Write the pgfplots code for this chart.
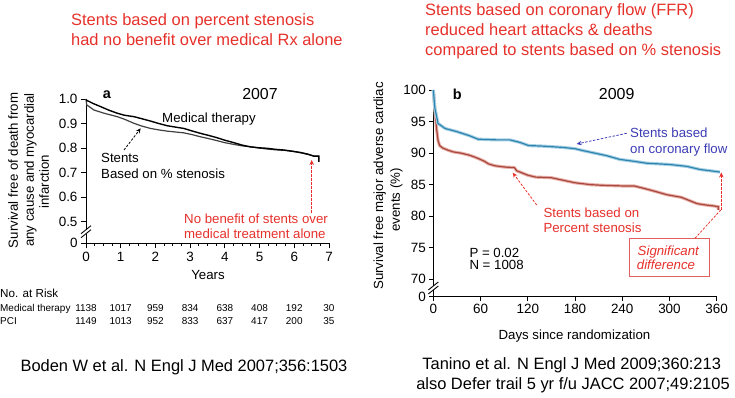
\documentclass[border=0pt]{standalone}
\usepackage{pgfplots}
\pgfplotsset{compat=1.18}
\usepackage{fontspec}
\setmainfont{Liberation Sans}
\usetikzlibrary{arrows.meta}
\definecolor{tred}{HTML}{E6302A}
\definecolor{tblue}{HTML}{3C3CB4}
\definecolor{cblue}{HTML}{2E86B0}
\definecolor{hblue}{HTML}{A8D0E4}
\definecolor{cred}{HTML}{A8483E}
\definecolor{hred}{HTML}{E8B0A8}
\definecolor{boxred}{HTML}{E06060}
\newcommand{\fs}[1]{\fontsize{#1}{#1}\selectfont}
\newcommand{\brk}[2]{%
  \fill[white] (#1-1.6,#2-2) rectangle (#1+1.6,#2+2);
  \draw[line width=0.9bp] (#1-5,#2-6) -- (#1+5,#2+2);
  \draw[line width=0.9bp] (#1-5,#2-2) -- (#1+5,#2+6);}
\tikzset{darr/.style={line width=0.8bp,dash pattern=on 2.5bp off 1.5bp,-{Stealth[length=5bp,width=4.5bp]}}}
\begin{document}
\begin{tikzpicture}
\path[use as bounding box] (0bp,0bp) rectangle (735bp,398bp);

% ---------- panel a
\begin{axis}[at={(86bp,154.7bp)},anchor=south west,scale only axis,
  width=243bp,height=144.3bp,
  xmin=0,xmax=7,ymin=0.412,ymax=1,
  axis lines=left,axis line style={-,line width=0.9bp},
  xtick={0,1,2,3,4,5,6,7},xticklabels={0,1,2,3,4,5,6,7},minor x tick num=3,
  ytick={0.412,0.5,0.6,0.7,0.8,0.9,1},yticklabels={0,0.5,0.6,0.7,0.8,0.9,1.0},
  tick align=outside,major tick length=5bp,minor tick length=3bp,
  tick style={black,line width=0.9bp},
  tick label style={font=\fs{13.5}},
  clip=false]
\addplot[black!75,line width=1.2bp] coordinates {
(0,1.0)(0.02,0.976)(0.23,0.955)(0.52,0.942)(0.9,0.928)(1.1,0.918)(1.38,0.901)(1.6,0.89)(1.86,0.880)(2.1,0.874)(2.34,0.869)(2.82,0.862)(3.05,0.855)(3.3,0.846)(3.55,0.838)(3.78,0.830)(4.0,0.822)(4.26,0.815)(4.5,0.809)(4.74,0.805)(5.0,0.800)(5.22,0.796)(5.45,0.793)(5.7,0.791)(5.95,0.787)(6.18,0.781)(6.4,0.774)(6.57,0.767)(6.71,0.767)};
\addplot[black,line width=1.4bp] coordinates {
(0,0.996)(0.2,0.982)(0.42,0.969)(0.65,0.955)(0.9,0.942)(1.1,0.934)(1.38,0.928)(1.6,0.92)(1.86,0.910)(2.1,0.900)(2.34,0.891)(2.6,0.885)(2.82,0.880)(3.05,0.870)(3.3,0.860)(3.55,0.851)(3.78,0.842)(4.0,0.832)(4.26,0.822)(4.5,0.812)(4.74,0.805)(5.0,0.801)(5.22,0.799)(5.45,0.795)(5.7,0.792)(5.95,0.787)(6.18,0.782)(6.4,0.775)(6.57,0.767)(6.71,0.767)(6.71,0.744)};
\end{axis}

% ---------- panel b
\begin{axis}[at={(433.3bp,101.3bp)},anchor=south west,scale only axis,
  width=283.4bp,height=206.7bp,
  xmin=0,xmax=360,ymin=67.25,ymax=100,
  axis lines=left,axis line style={-,line width=0.9bp},
  xtick={0,60,120,180,240,300,360},xticklabels={0,60,120,180,240,300,360},
  ytick={67.25,70,75,80,85,90,95,100},yticklabels={0,70,75,80,85,90,95,100},
  tick align=outside,major tick length=4bp,
  tick style={black,line width=0.9bp},
  tick label style={font=\fs{13.5}},
  clip=false]
\addplot[hred,line width=3.2bp] coordinates {
(0,100)(2,97)(4,94)(6,92)(8,91.2)(12,90.8)(18,90.5)(25,90.2)(35,90.0)(45,89.7)(52,89.4)(58,89.1)(65,88.7)(70,88.3)(78,88.0)(90,87.8)(103,87.7)(106,87.2)(112,86.9)(120,86.5)(130,86.2)(150,86.1)(165,85.7)(180,85.3)(200,85.0)(215,84.9)(240,84.8)(255,84.8)(268,84.4)(280,84.0)(297,83.4)(315,83.0)(335,82.0)(345,81.8)(358,81.6)(362,81.5)(362,81.0)};
\addplot[cred,line width=1.2bp] coordinates {
(0,100)(2,97)(4,94)(6,92)(8,91.2)(12,90.8)(18,90.5)(25,90.2)(35,90.0)(45,89.7)(52,89.4)(58,89.1)(65,88.7)(70,88.3)(78,88.0)(90,87.8)(103,87.7)(106,87.2)(112,86.9)(120,86.5)(130,86.2)(150,86.1)(165,85.7)(180,85.3)(200,85.0)(215,84.9)(240,84.8)(255,84.8)(268,84.4)(280,84.0)(297,83.4)(315,83.0)(335,82.0)(345,81.8)(358,81.6)(362,81.5)(362,81.0)};
\addplot[hblue,line width=3.2bp] coordinates {
(0,100)(2,97.1)(6,94.7)(15,93.9)(30,93.4)(45,92.8)(57,92.2)(80,92.1)(97,92.1)(110,91.7)(121,91.2)(140,91.1)(165,90.9)(180,90.7)(190,90.4)(205,90.0)(220,89.6)(237,89.0)(255,88.7)(271,88.4)(300,88.2)(322,87.9)(339,87.4)(352,87.2)(364,87.0)};
\addplot[cblue,line width=1.2bp] coordinates {
(0,100)(2,97.1)(6,94.7)(15,93.9)(30,93.4)(45,92.8)(57,92.2)(80,92.1)(97,92.1)(110,91.7)(121,91.2)(140,91.1)(165,90.9)(180,90.7)(190,90.4)(205,90.0)(220,89.6)(237,89.0)(255,88.7)(271,88.4)(300,88.2)(322,87.9)(339,87.4)(352,87.2)(364,87.0)};
\end{axis}

\begin{scope}[x=1bp,y=1bp]
% ---------- titles
\node[anchor=base west,inner sep=0,text=tred,font=\fs{16.5}] at (71,398-25.7) {Stents based on percent stenosis};
\node[anchor=base west,inner sep=0,text=tred,font=\fs{16.5}] at (71,398-45.7) {had no benefit over medical Rx alone};
\node[anchor=base west,inner sep=0,text=tred,font=\fs{16.5}] at (425,398-15) {Stents based on coronary flow (FFR)};
\node[anchor=base west,inner sep=0,text=tred,font=\fs{16.5}] at (425,398-35) {reduced heart attacks \& deaths};
\node[anchor=base west,inner sep=0,text=tred,font=\fs{16.5}] at (425,398-55) {compared to stents based on \% stenosis};

% panel a annotations
\brk{86}{398-231.7}
\node[anchor=base,inner sep=0,font=\fs{14.5}\bfseries] at (107,398-98.8) {a};
\node[anchor=base,inner sep=0,font=\fs{16}] at (260,398-99.7) {2007};
\node[anchor=base,inner sep=0,font=\fs{13.3}] at (209,398-122.5) {Medical therapy};
\node[anchor=base west,inner sep=0,font=\fs{13.3}] at (101,398-162.5) {Stents};
\node[anchor=base west,inner sep=0,font=\fs{13.3}] at (101,398-178.1) {Based on \% stenosis};
\draw[darr,black] (124,398-150) -- (140.7,398-128.3);
\node[anchor=base west,inner sep=0,text=tred,font=\fs{13.3}] at (184,398-223.1) {No benefit of stents over};
\node[anchor=base west,inner sep=0,text=tred,font=\fs{13.3}] at (184,398-238.8) {medical treatment alone};
\draw[darr,tred] (311.7,398-213) -- (311.7,398-160);
\node[anchor=base,inner sep=0,font=\fs{13.3}] at (208,398-279.8) {Years};
\node[anchor=base,inner sep=0,rotate=90,font=\fs{13.3}] at (17.8,398-170.5) {Survival free of death from};
\node[anchor=base,inner sep=0,rotate=90,font=\fs{13.3}] at (33.8,398-170) {any cause and myocardial};
\node[anchor=base,inner sep=0,rotate=90,font=\fs{13.3}] at (48.8,398-181.7) {infarction};

% numbers at risk
\node[anchor=base west,inner sep=0,font=\fs{11.7}] at (0,398-297.5) {No. at Risk};
\node[anchor=base west,inner sep=0,font=\fs{10}] at (0,398-311.6) {Medical therapy};
\node[anchor=base west,inner sep=0,font=\fs{10}] at (0,398-324.3) {PCI};
\foreach \v [count=\i from 0] in {1138,1017,959,834,638,408,192,30}
  \node[anchor=base,inner sep=0,font=\fs{10}] at (86+34.71*\i,398-311.6) {\v};
\foreach \v [count=\i from 0] in {1149,1013,952,833,637,417,200,35}
  \node[anchor=base,inner sep=0,font=\fs{10}] at (86+34.71*\i,398-324.3) {\v};
\node[anchor=base,inner sep=0,font=\fs{16.5}] at (184,398-371) {Boden W et al. N Engl J Med 2007;356:1503};

% panel b annotations
\brk{433.3}{398-288}
\node[anchor=base,inner sep=0,font=\fs{14.5}\bfseries] at (457.3,398-99.3) {b};
\node[anchor=base,inner sep=0,font=\fs{16}] at (616.7,398-99.5) {2009};
\node[anchor=base west,inner sep=0,text=tblue,font=\fs{13.3}] at (630,398-137.5) {Stents based};
\node[anchor=base west,inner sep=0,text=tblue,font=\fs{13.3}] at (630,398-153.8) {on coronary flow};
\draw[darr,tblue] (626.7,398-133.3) -- (576.7,398-144);
\node[anchor=base west,inner sep=0,text=tred,font=\fs{13.3}] at (543.3,398-217.1) {Stents based on};
\node[anchor=base west,inner sep=0,text=tred,font=\fs{13.3}] at (543.3,398-232.5) {Percent stenosis};
\draw[darr,tred] (536.7,398-205) -- (512.7,398-172.7);
\node[anchor=base west,inner sep=0,font=\fs{13.3}] at (469.3,398-257.1) {P = 0.02};
\node[anchor=base west,inner sep=0,font=\fs{13.3}] at (469.3,398-269.1) {N = 1008};
\draw[boxred,line width=0.9bp] (629.3,398-238.3) rectangle (709.3,398-276.7);
\node[anchor=base,inner sep=0,text=tred,font=\fs{13.3}\itshape] at (668.3,398-255.5) {Significant};
\node[anchor=base,inner sep=0,text=tred,font=\fs{13.3}\itshape] at (666,398-269.1) {difference};
\draw[tred,line width=0.8bp,dash pattern=on 2.5bp off 1.5bp] (695,398-238.3) -- (720.7,398-210);
\draw[darr,tred] (721.3,398-210) -- (721.3,398-172.5);
\node[anchor=base,inner sep=0,font=\fs{13.3}] at (574.5,398-339.8) {Days since randomization};
\node[anchor=base,inner sep=0,rotate=90,font=\fs{13.3}] at (383.1,398-186) {Survival free major adverse cardiac};
\node[anchor=base,inner sep=0,rotate=90,font=\fs{13.3}] at (399.8,398-200) {events (\%)};
\node[anchor=base,inner sep=0,font=\fs{16.5}] at (571.7,398-369) {Tanino et al. N Engl J Med 2009;360:213};
\node[anchor=base,inner sep=0,font=\fs{16.5}] at (573,398-389) {also Defer trail 5 yr f/u JACC 2007;49:2105};
\end{scope}
\end{tikzpicture}
\end{document}
